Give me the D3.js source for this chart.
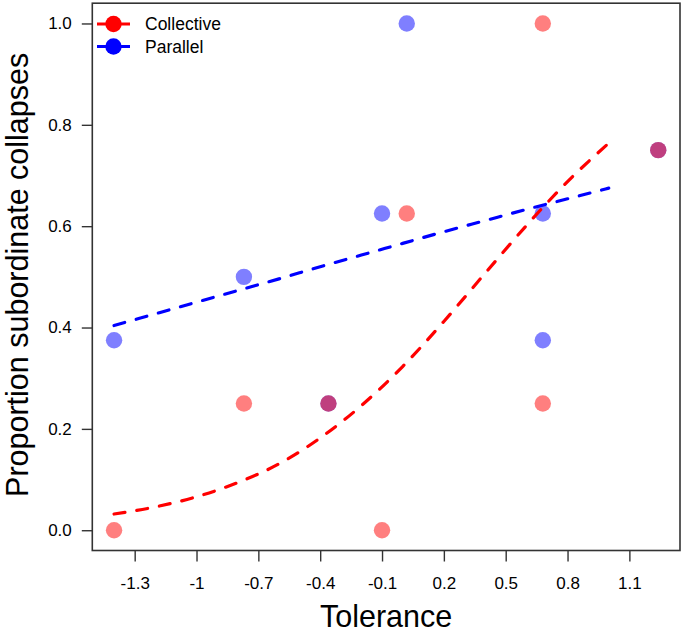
<!DOCTYPE html>
<html>
<head>
<meta charset="utf-8">
<script src="https://cdn.jsdelivr.net/npm/d3@7"></script>
<style>
  html, body { margin: 0; padding: 0; background: #fff; }
  svg text { font-family: "Liberation Sans", Arial, Helvetica, sans-serif; fill: #000; }
</style>
</head>
<body>
<svg id="chart" width="685" height="634"></svg>
<script>
// ---- data ----
const tolerance = [-1.4, -0.77, -0.36, -0.1, 0.02, 0.68, 0.68, 1.24];
const collective = [0, 0.25, 0.25, 0, 0.625, 1.0, 0.25, 0.75];
const parallel   = [0.375, 0.5, 0.25, 0.625, 1.0, 0.625, 0.375, 0.75];

const fitX          = [-1.4, -1.2, -1.0, -0.8, -0.6, -0.4, -0.2, 0.0, 0.2, 0.4, 0.6, 0.8, 1.0];
const fitCollective = [0.032, 0.046, 0.066, 0.094, 0.131, 0.182, 0.246, 0.323, 0.412, 0.507, 0.601, 0.688, 0.764];
const fitParallel   = [0.404, 0.427, 0.450, 0.473, 0.496, 0.520, 0.543, 0.566, 0.589, 0.611, 0.633, 0.654, 0.675];

const xTicks = [-1.3, -1.0, -0.7, -0.4, -0.1, 0.2, 0.5, 0.8, 1.1];
const xTickLabels = ["-1.3", "-1", "-0.7", "-0.4", "-0.1", "0.2", "0.5", "0.8", "1.1"];
const yTicks = [0, 0.2, 0.4, 0.6, 0.8, 1.0];
const yTickLabels = ["0.0", "0.2", "0.4", "0.6", "0.8", "1.0"];

const seriesNames = ["Collective", "Parallel"];
const seriesColors = ["#ff0000", "#0000ff"];

// ---- layout ----
const svg = d3.select("#chart");
const pL = 92.3, pR = 680, pT = 3.2, pB = 550.5;

const x = d3.scaleLinear().domain([-1.5056, 1.3456]).range([pL, pR]);
const y = d3.scaleLinear().domain([-0.04, 1.04]).range([pB, pT]);

// box
svg.append("rect")
  .attr("x", pL).attr("y", pT)
  .attr("width", pR - pL).attr("height", pB - pT)
  .attr("fill", "none").attr("stroke", "#333").attr("stroke-width", 1.6);

// x axis
const xAxis = d3.axisBottom(x).tickValues(xTicks)
  .tickFormat((d, i) => xTickLabels[i]).tickSize(11).tickPadding(15);
const gx = svg.append("g").attr("transform", `translate(0,${pB})`).call(xAxis);
gx.select(".domain").remove();
gx.selectAll(".tick line").attr("stroke", "#333").attr("stroke-width", 1.4);
gx.selectAll(".tick text").attr("font-size", "17px")
  .style("font-family", "'Liberation Sans', Arial, sans-serif");

// y axis
const yAxis = d3.axisLeft(y).tickValues(yTicks)
  .tickFormat((d, i) => yTickLabels[i]).tickSize(10.5).tickPadding(10);
const gy = svg.append("g").attr("transform", `translate(${pL},0)`).call(yAxis);
gy.select(".domain").remove();
gy.selectAll(".tick line").attr("stroke", "#333").attr("stroke-width", 1.4);
gy.selectAll(".tick text").attr("font-size", "17px")
  .style("font-family", "'Liberation Sans', Arial, sans-serif");

// axis titles
svg.append("text")
  .attr("x", (pL + pR) / 2).attr("y", 627)
  .attr("text-anchor", "middle").attr("font-size", "30.5px")
  .text("Tolerance");
svg.append("text")
  .attr("transform", `translate(28,${(pT + pB) / 2 - 2}) rotate(-90)`)
  .attr("text-anchor", "middle").attr("font-size", "30.5px")
  .text("Proportion subordinate collapses");

// points: parallel first, collective on top
const ptsP = tolerance.map((t, i) => ({ t, v: parallel[i] }));
const ptsC = tolerance.map((t, i) => ({ t, v: collective[i] }));
svg.append("g").selectAll("circle").data(ptsP).join("circle")
  .attr("cx", d => x(d.t)).attr("cy", d => y(d.v)).attr("r", 8.2)
  .attr("fill", "rgba(0,0,255,0.5)");
svg.append("g").selectAll("circle").data(ptsC).join("circle")
  .attr("cx", d => x(d.t)).attr("cy", d => y(d.v)).attr("r", 8.2)
  .attr("fill", "rgba(255,0,0,0.5)");

// fitted lines
const line = d3.line().x(d => x(d[0])).y(d => y(d[1])).curve(d3.curveMonotoneX);
[fitCollective, fitParallel].forEach((vals, k) => {
  svg.append("path")
    .datum(fitX.map((xv, i) => [xv, vals[i]]))
    .attr("d", line)
    .attr("fill", "none")
    .attr("stroke", seriesColors[k])
    .attr("stroke-width", 3.2)
    .attr("stroke-dasharray", "11,12")
    .attr("stroke-linecap", "round");
});

// legend
const lg = svg.append("g");
seriesNames.forEach((name, i) => {
  const ly = 24 + i * 22.5;
  lg.append("line").attr("x1", 97).attr("x2", 130).attr("y1", ly).attr("y2", ly)
    .attr("stroke", seriesColors[i]).attr("stroke-width", 3.2);
  lg.append("circle").attr("cx", 113.5).attr("cy", ly).attr("r", 8.2)
    .attr("fill", seriesColors[i]);
  lg.append("text").attr("x", 145).attr("y", ly + 6).attr("font-size", "17.5px").text(name);
});
</script>
</body>
</html>
